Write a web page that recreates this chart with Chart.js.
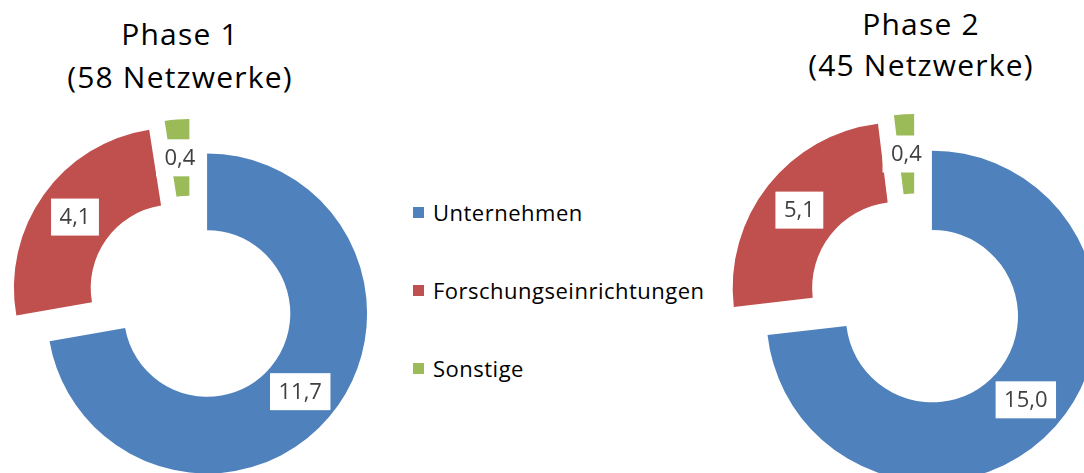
<!DOCTYPE html>
<html>
<head>
<meta charset="utf-8">
<script src="https://cdn.jsdelivr.net/npm/chart.js@4"></script>
<style>
  body { margin: 0; width: 1084px; height: 473px; overflow: hidden; background: #fff; position: relative; font-family: 'Open Sans', sans-serif; }
  .title { position: absolute; width: 360px; text-align: center; font-size: 30px; letter-spacing: 1.2px; color: #000; }
  .box { position: absolute; }
  #legend { position: absolute; left: 413px; top: 0; font-size: 22px; letter-spacing: 0.5px; color: #000; }
  .item { position: absolute; left: 0; white-space: nowrap; display: flex; align-items: center; height: 30px; }
  .item span.sq { display: inline-block; width: 11px; height: 11px; margin-right: 9px; }
</style>
</head>
<body>
<div class="title" id="t1" style="left:0px; top:12px; line-height:43px;"></div>
<div class="title" id="t2" style="left:741px; top:3px; line-height:41px;"></div>
<div class="box" style="left:1px; top:110px; width:380px; height:380px;"><canvas id="phase1"></canvas></div>
<div class="box" style="left:720px; top:106px; width:391px; height:391px;"><canvas id="phase2"></canvas></div>
<div id="legend"></div>

<script>
// data
const categories = ['Unternehmen', 'Forschungseinrichtungen', 'Sonstige'];
const phase1Values = [11.7, 4.1, 0.4];
const phase2Values = [15.0, 5.1, 0.4];
const titles = [['Phase 1', '(58 Netzwerke)'], ['Phase 2', '(45 Netzwerke)']];
const colors = ['#4F81BD', '#C0504D', '#9BBB59'];

Chart.defaults.font.family = "'Open Sans', sans-serif";

document.getElementById('t1').innerHTML = titles[0].join('<br>');
document.getElementById('t2').innerHTML = titles[1].join('<br>');

// legend (shared between both donuts)
const legend = document.getElementById('legend');
const legendY = [197, 275, 353];
categories.forEach((c, i) => {
  const it = document.createElement('div');
  it.className = 'item';
  it.style.top = legendY[i] + 'px';
  it.innerHTML = '<span class="sq" style="background:' + colors[i] + '"></span>' + c;
  legend.appendChild(it);
});

// explode every slice along its bisector, then draw value boxes
const explode = {
  id: 'explode',
  beforeDatasetDraw(chart, args, opts) {
    const ctx = chart.ctx;
    const d = opts.distance || 0;
    args.meta.data.forEach(arc => {
      const a = (arc.startAngle + arc.endAngle) / 2;
      ctx.save();
      ctx.translate(Math.cos(a) * d, Math.sin(a) * d);
      arc.draw(ctx);
      ctx.restore();
    });
    return false;
  },
  afterDatasetsDraw(chart, args, opts) {
    const ctx = chart.ctx;
    const d = opts.distance || 0;
    const meta = chart.getDatasetMeta(0);
    const values = chart.data.datasets[0].data;
    ctx.save();
    ctx.font = "22px 'Open Sans'";
    ctx.textAlign = 'center';
    ctx.textBaseline = 'middle';
    meta.data.forEach((arc, i) => {
      const a = (arc.startAngle + arc.endAngle) / 2;
      const p = arc.getCenterPoint();
      const x = p.x + Math.cos(a) * d;
      const y = p.y + Math.sin(a) * d;
      const txt = values[i].toFixed(1).replace('.', ',');
      const w = ctx.measureText(txt).width + 17;
      const h = 37;
      ctx.fillStyle = '#fff';
      ctx.fillRect(x - w / 2, y - h / 2, w, h);
      ctx.fillStyle = '#404040';
      ctx.fillText(txt, x, y + 1);
    });
    ctx.restore();
  }
};

function makeDonut(id, values, dist) {
  return new Chart(document.getElementById(id), {
    type: 'doughnut',
    data: {
      labels: categories,
      datasets: [{
        data: values,
        backgroundColor: colors,
        borderWidth: 0,
        clip: false
      }]
    },
    options: {
      responsive: true,
      maintainAspectRatio: false,
      animation: false,
      events: [],
      cutout: '52%',
      layout: { padding: 30 },
      plugins: {
        legend: { display: false },
        tooltip: { enabled: false },
        explode: { distance: dist }
      }
    },
    plugins: [explode]
  });
}

makeDonut('phase1', phase1Values, 21);
makeDonut('phase2', phase2Values, 22);
</script>
</body>
</html>
